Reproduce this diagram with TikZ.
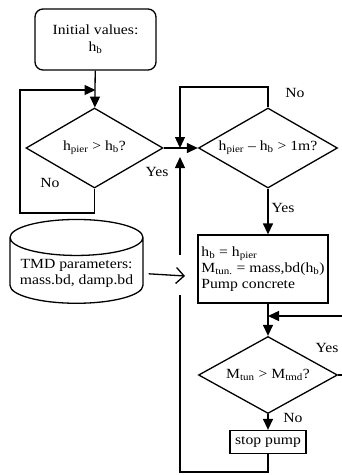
\documentclass[tikz,border=0pt]{standalone}
\usepackage{fontspec}
\setmainfont{Liberation Serif}[FakeStretch=1.12]
\usetikzlibrary{shapes.geometric,arrows.meta}

\begin{document}
\begin{tikzpicture}[x=1pt,y=-1pt,line width=1.3pt,
        font=\fontsize{14}{16}\selectfont,
        blocco/.style={draw,rectangle,inner sep=0pt},
        rombo/.style={draw,diamond,aspect=1.75,inner sep=0pt,minimum width=139pt,minimum height=80pt},
        freccia/.style={-{Triangle[length=11pt,width=10pt]}},
        aperta/.style={-{Straight Barb[length=8pt,width=16pt]}}]
        \useasboundingbox (0,0) rectangle (342,475);
        % Blocchi
        \node[blocco,rounded corners=8pt,minimum width=121pt,minimum height=61pt,align=center] (init) at (95.5,39.5) {Initial values:\\[1pt] h\textsubscript{b}};
        \node[rombo,minimum width=137pt] (d1) at (94.5,148) {h\textsubscript{pier} > h\textsubscript{b}?};
        \node[rombo] (d2) at (268,148) {h\textsubscript{pier} -- h\textsubscript{b} > 1m?};
        \node[blocco,minimum width=130pt,minimum height=68pt,align=left] (proc) at (263,269) {h\textsubscript{b} = h\textsubscript{pier}\\ M\textsubscript{tun.} = mass,bd(h\textsubscript{b})\\ Pump concrete};
        \node[rombo,minimum height=77pt] (d3) at (268,375) {M\textsubscript{tun} > M\textsubscript{tmd}?};
        \node[blocco,minimum width=76pt,minimum height=23pt] (stop) at (268,442) {stop pump};
        \node[draw,cylinder,shape border rotate=90,aspect=0.3,minimum width=133pt,minimum height=73pt,align=center] (tmd) at (76.5,273.5) {TMD parameters:\\ mass.bd, damp.bd};
        % Punti di passaggio
        \coordinate (a1) at (20,213);
        \coordinate (a2) at (20,90);
        \coordinate (b1) at (180,87);
        \coordinate (nodo) at (180,148);
        \coordinate (c1) at (180,472);
        \coordinate (c2) at (180,295);
        \coordinate (c3) at (180,255);
        \coordinate (t1) at (185,276);
        \coordinate (e1) at (347,375);
        \coordinate (e2) at (347,316);
        % Frecce
        \draw[freccia] (init) -- (d1);
        \draw[freccia] (d1.south) -- (d1.south |- a1) -- (a1) -- (a2) -- (init.south |- a2);
        \draw[freccia] (d1.east) -- (d2.west);
        \draw[freccia] (d2.north) -- (d2.north |- b1) -- (b1) -- (nodo);
        \draw (stop.south) -- (stop.south |- c1) -- (c1) -- (c2);
        \draw[freccia,shorten >=9pt] (c3) -- (nodo);
        \draw[aperta,shorten <=5pt] (tmd.east) -- (t1);
        \draw[freccia] (d2.south) -- (d2.south |- proc.north);
        \draw[freccia] (d3.north |- proc.south) -- (d3.north);
        \draw[freccia] (d3.east) -- (e1) -- (e2) -- (d3.north |- e2);
        \draw[freccia] (d3.south) -- (stop.north);
        % Etichette
        \node (no1) at (50,183) {No};
        \node (si1) at (157,172) {Yes};
        \node (no2) at (295,93) {No};
        \node (si2) at (283,208) {Yes};
        \node (si3) at (327,348) {Yes};
        \node (no3) at (293,418) {No};
\end{tikzpicture}
\end{document}
